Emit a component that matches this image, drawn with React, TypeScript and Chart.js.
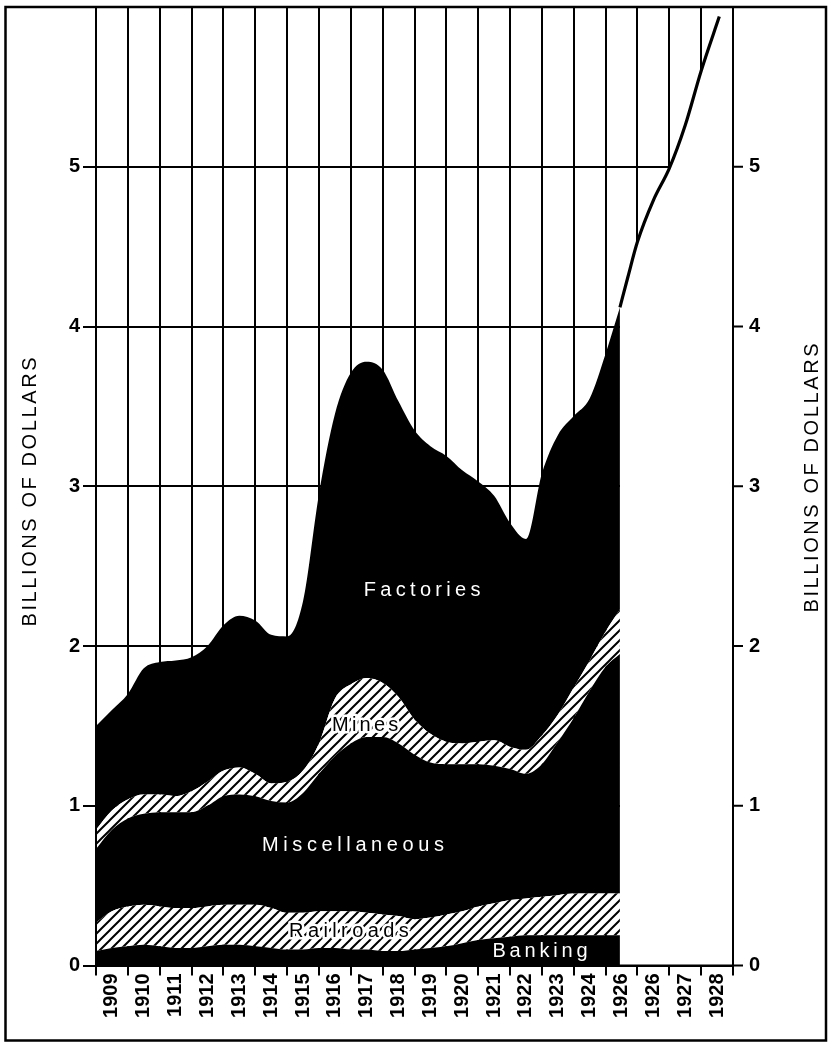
import React, { useEffect, useRef } from 'react';
import { Chart, registerables } from 'chart.js';

Chart.register(...registerables);

// Column labels (as printed on the original; the 17th column is printed "1926")
const YEAR_LABELS = [
  '1909', '1910', '1911', '1912', '1913', '1914', '1915', '1916', '1917', '1918',
  '1919', '1920', '1921', '1922', '1923', '1924', '1926', '1926', '1927', '1928',
];

// x position in column units (0 = left edge of the 1909 column)
const X_POS = [
  0, 0.5, 1, 1.5, 2, 2.5, 3, 3.5, 4, 4.5, 5, 5.5, 6, 6.5, 7, 7.5, 8, 8.5, 9, 9.5,
  10, 10.5, 11, 11.5, 12, 12.5, 13, 13.5, 14, 14.5, 15, 15.5, 16, 16.45,
];

// Series values, billions of dollars (stacked bottom to top)
const BANKING = [
  0.09, 0.11, 0.12, 0.13, 0.12, 0.11, 0.11, 0.12, 0.13, 0.13, 0.12, 0.11, 0.10, 0.10, 0.11, 0.11, 0.10,
  0.10, 0.09, 0.09, 0.10, 0.11, 0.12, 0.14, 0.16, 0.17, 0.18, 0.19, 0.19, 0.19, 0.19, 0.19, 0.19, 0.19,
];
const RAILROADS = [
  0.18, 0.23, 0.25, 0.25, 0.25, 0.25, 0.25, 0.25, 0.25, 0.25, 0.26, 0.25, 0.23, 0.23, 0.23, 0.23, 0.24,
  0.23, 0.23, 0.22, 0.19, 0.19, 0.20, 0.20, 0.21, 0.22, 0.23, 0.23, 0.24, 0.25, 0.26, 0.26, 0.26, 0.26,
];
const MISCELLANEOUS = [
  0.46, 0.51, 0.55, 0.57, 0.59, 0.60, 0.60, 0.63, 0.68, 0.69, 0.68, 0.67, 0.69, 0.75, 0.86, 0.97, 1.05,
  1.10, 1.11, 1.08, 1.03, 0.97, 0.94, 0.92, 0.89, 0.86, 0.82, 0.78, 0.83, 0.96, 1.10, 1.27, 1.42, 1.50,
];
const MINES = [
  0.12, 0.12, 0.12, 0.12, 0.11, 0.10, 0.13, 0.15, 0.16, 0.17, 0.14, 0.11, 0.13, 0.14, 0.19, 0.36, 0.37,
  0.37, 0.34, 0.29, 0.22, 0.18, 0.14, 0.13, 0.14, 0.16, 0.14, 0.15, 0.18, 0.17, 0.19, 0.19, 0.22, 0.28,
];
const FACTORIES = [
  0.65, 0.63, 0.66, 0.79, 0.83, 0.85, 0.84, 0.85, 0.91, 0.95, 0.96, 0.93, 0.91, 1.06, 1.56, 1.78, 1.95,
  1.98, 1.96, 1.85, 1.81, 1.80, 1.79, 1.71, 1.63, 1.53, 1.40, 1.32, 1.64, 1.75, 1.70, 1.64, 1.74, 1.89,
];

// Projected total (line only), 1926 - 1928
const PROJ_X = [16.45, 16.7, 17, 17.5, 18, 18.5, 19, 19.57];
const PROJ_Y = [4.12, 4.31, 4.53, 4.79, 4.99, 5.26, 5.6, 5.94];

const X_MAX = 20;
const Y_MAX = 6;
const Y_LABELED = [0, 1, 2, 3, 4, 5];

const AXIS_TITLE = 'BILLIONS OF DOLLARS';

const AREA_LABELS = [
  { text: 'Factories', u: 10.24, v: 2.35, color: '#fff', halo: false, spacing: 4.3 },
  { text: 'Mines', u: 8.45, v: 1.505, color: '#000', halo: true, spacing: 3.2 },
  { text: 'Miscellaneous', u: 8.07, v: 0.75, color: '#fff', halo: false, spacing: 4.6 },
  { text: 'Railroads', u: 7.94, v: 0.216, color: '#000', halo: true, spacing: 4.4 },
  { text: 'Banking', u: 13.94, v: 0.085, color: '#fff', halo: false, spacing: 3.8 },
];

function makeHatch(): CanvasPattern | string {
  const c = document.createElement('canvas');
  c.width = 10;
  c.height = 10;
  const g = c.getContext('2d');
  if (!g) return '#888';
  g.fillStyle = '#fff';
  g.fillRect(0, 0, 10, 10);
  g.strokeStyle = '#000';
  g.lineWidth = 2;
  g.beginPath();
  g.moveTo(-2, 12);
  g.lineTo(12, -2);
  g.moveTo(-2, 2);
  g.lineTo(2, -2);
  g.moveTo(8, 12);
  g.lineTo(12, 8);
  g.stroke();
  const p = g.createPattern(c, 'repeat');
  return p || '#888';
}

const overlayPlugin = {
  id: 'overlay',
  afterDatasetsDraw(chart: any) {
    const { ctx, chartArea, scales } = chart;
    const xs = scales.x;
    const ys = scales.y;
    ctx.save();
    // plot borders
    ctx.strokeStyle = '#000';
    ctx.lineWidth = 2;
    ctx.beginPath();
    ctx.moveTo(chartArea.left, chartArea.bottom);
    ctx.lineTo(chartArea.right, chartArea.bottom);
    ctx.moveTo(chartArea.right, chartArea.top);
    ctx.lineTo(chartArea.right, chartArea.bottom);
    ctx.moveTo(chartArea.left, chartArea.top);
    ctx.lineTo(chartArea.left, chartArea.bottom);
    ctx.stroke();

    // right-hand tick marks
    ctx.beginPath();
    Y_LABELED.forEach((v) => {
      const py = ys.getPixelForValue(v);
      ctx.moveTo(chartArea.right, py);
      ctx.lineTo(chartArea.right + 10, py);
    });
    ctx.stroke();

    // area labels
    ctx.textAlign = 'center';
    ctx.textBaseline = 'middle';
    ctx.font = '20px "Liberation Sans", Arial, sans-serif';
    AREA_LABELS.forEach((l) => {
      (ctx as any).letterSpacing = l.spacing + 'px';
      const px = xs.getPixelForValue(l.u) + l.spacing / 2;
      const py = ys.getPixelForValue(l.v);
      if (l.halo) {
        ctx.strokeStyle = '#fff';
        ctx.lineWidth = 5;
        ctx.lineJoin = 'round';
        ctx.strokeText(l.text, px, py);
      }
      ctx.fillStyle = l.color;
      ctx.fillText(l.text, px, py);
    });
    ctx.restore();
  },
  afterDraw(chart: any) {
    const { ctx, chartArea } = chart;
    ctx.save();
    // outer frame
    ctx.strokeStyle = '#000';
    ctx.lineWidth = 2.5;
    ctx.strokeRect(5.5, chartArea.top, 820.5, 1040.5 - chartArea.top);
    // axis titles, both reading bottom-to-top
    ctx.fillStyle = '#000';
    ctx.font = '20px "Liberation Sans", Arial, sans-serif';
    (ctx as any).letterSpacing = '2.6px';
    ctx.textAlign = 'center';
    ctx.textBaseline = 'middle';
    const drawTitle = (x: number, y: number) => {
      ctx.save();
      ctx.translate(x, y);
      ctx.rotate(-Math.PI / 2);
      ctx.fillText(AXIS_TITLE, 1.3, 0);
      ctx.restore();
    };
    drawTitle(30, 492);
    drawTitle(812, 478);
    ctx.restore();
  },
};

export default function App() {
  const canvasRef = useRef<HTMLCanvasElement | null>(null);

  useEffect(() => {
    const canvas = canvasRef.current;
    if (!canvas) return;
    const hatch = makeHatch();

    const stackedSet = (label: string, vals: number[], bg: any, fill: any) => ({
      label,
      data: X_POS.map((x, i) => ({ x, y: vals[i] })),
      backgroundColor: bg,
      borderColor: 'rgba(0,0,0,0)',
      borderWidth: 0,
      pointRadius: 0,
      fill,
      cubicInterpolationMode: 'monotone' as const,
      stack: 'main',
    });

    const lastProj = PROJ_X.length - 1;

    const chart = new Chart(canvas, {
      type: 'line',
      data: {
        datasets: [
          stackedSet('Banking', BANKING, '#000', 'origin'),
          stackedSet('Railroads', RAILROADS, hatch, '-1'),
          stackedSet('Miscellaneous', MISCELLANEOUS, '#000', '-1'),
          stackedSet('Mines', MINES, hatch, '-1'),
          stackedSet('Factories', FACTORIES, '#000', '-1'),
          {
            label: 'Projection',
            data: PROJ_X.map((x, i) => ({ x, y: PROJ_Y[i] })),
            borderColor: '#000',
            borderWidth: 3.2,
            backgroundColor: '#fff',
            pointRadius: 0,
            fill: 'origin',
            cubicInterpolationMode: 'monotone' as const,
            stack: 'proj',
          },
          {
            // white mask to the right of the projection's end (no grid there)
            label: 'mask',
            data: [
              { x: PROJ_X[lastProj] - 0.08, y: Y_MAX },
              { x: X_MAX, y: Y_MAX },
            ],
            borderWidth: 0,
            borderColor: 'rgba(0,0,0,0)',
            backgroundColor: '#fff',
            pointRadius: 0,
            fill: 'origin',
            stack: 'mask',
          },
        ] as any,
      },
      options: {
        animation: false,
        responsive: false,
        events: [],
        layout: { padding: { top: 7, left: 0, right: 0, bottom: 0 } },
        plugins: {
          legend: { display: false },
          tooltip: { enabled: false },
          title: { display: false },
        },
        scales: {
          x: {
            type: 'linear',
            min: 0,
            max: X_MAX,
            border: { display: true, color: '#000', width: 2 },
            grid: {
              color: (c: any) => (Number.isInteger(c.tick.value) ? '#000' : 'rgba(0,0,0,0)'),
              lineWidth: 2,
              drawTicks: true,
              tickLength: 10,
              tickWidth: 2,
            },
            ticks: {
              stepSize: 0.5,
              autoSkip: false,
              minRotation: 90,
              maxRotation: 90,
              padding: -2,
              color: '#000',
              font: { family: '"Liberation Sans", Arial, sans-serif', size: 20, weight: 'bold' },
              callback: (v: any) => {
                const n = Number(v);
                if (Number.isInteger(n)) return '';
                return YEAR_LABELS[Math.floor(n)] || '';
              },
            },
            afterFit: (s: any) => {
              s.height = 82.5;
              s.paddingLeft = 0;
              s.paddingRight = 0;
            },
          },
          y: {
            type: 'linear',
            position: 'left',
            stacked: true,
            min: 0,
            max: Y_MAX,
            border: { display: true, color: '#000', width: 2 },
            grid: {
              color: '#000',
              lineWidth: 2,
              drawTicks: true,
              tickLength: 13,
              tickWidth: 2,
              tickColor: (c: any) => (Y_LABELED.includes(c.tick.value) ? '#000' : 'rgba(0,0,0,0)'),
            },
            ticks: {
              stepSize: 1,
              padding: 3,
              color: '#000',
              font: { family: '"Liberation Sans", Arial, sans-serif', size: 20, weight: 'bold' },
              callback: (v: any) => (Y_LABELED.includes(Number(v)) ? String(v) : ''),
            },
            afterFit: (s: any) => {
              s.width = 96;
              s.paddingTop = 0;
              s.paddingBottom = 0;
            },
          },
          yRight: {
            type: 'linear',
            position: 'right',
            min: 0,
            max: Y_MAX,
            border: { display: true, color: '#000', width: 2 },
            grid: {
              drawOnChartArea: false,
              drawTicks: false,
              color: '#000',
            },
            ticks: {
              stepSize: 1,
              padding: 16,
              color: '#000',
              font: { family: '"Liberation Sans", Arial, sans-serif', size: 20, weight: 'bold' },
              callback: (v: any) => (Y_LABELED.includes(Number(v)) ? String(v) : ''),
            },
            afterFit: (s: any) => {
              s.width = 97;
              s.paddingTop = 0;
              s.paddingBottom = 0;
            },
          },
        },
      } as any,
      plugins: [overlayPlugin],
    });

    return () => {
      chart.destroy();
    };
  }, []);

  return (
    <div style={{ position: 'fixed', left: 0, top: 0, width: 830, height: 1048, background: '#fff' }}>
      <canvas ref={canvasRef} width={830} height={1048} style={{ display: 'block', width: 830, height: 1048 }} />
    </div>
  );
}
